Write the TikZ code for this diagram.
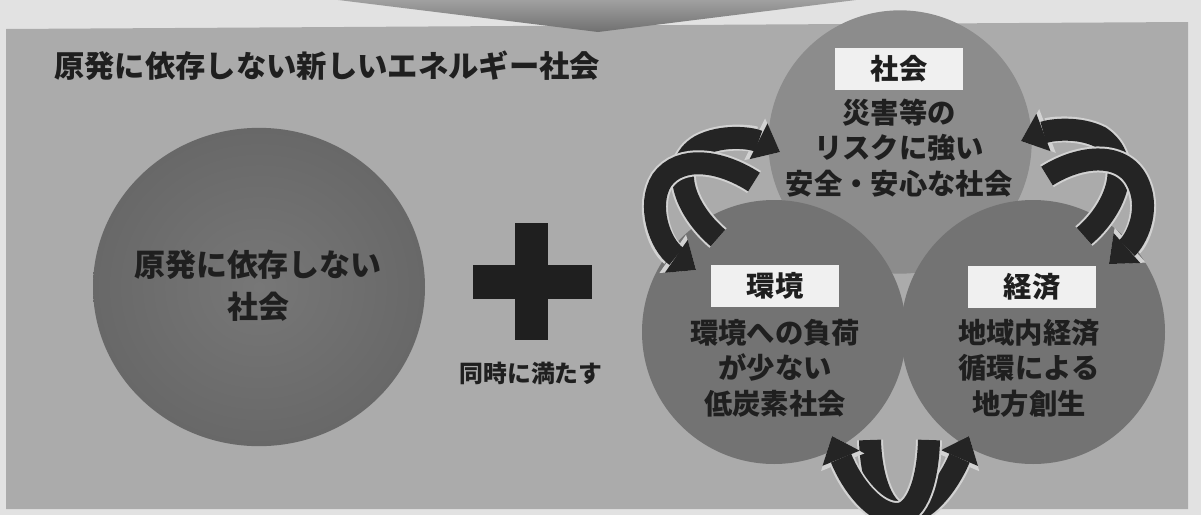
\documentclass[tikz,border=0pt]{standalone}
\usepackage{fontspec}
\setmainfont{Noto Sans CJK JP}
\usetikzlibrary{arrows.meta,shapes.geometric}
\definecolor{pagebg}{HTML}{E2E2E2}
\definecolor{panelc}{HTML}{ABABAB}
\definecolor{chevc}{HTML}{707070}
\definecolor{bigc}{HTML}{686868}
\definecolor{bigcin}{HTML}{777777}
\definecolor{topc}{HTML}{8C8C8C}
\definecolor{lowc}{HTML}{737373}
\definecolor{ink}{HTML}{1F1F1F}
\definecolor{arrowc}{HTML}{242424}
\definecolor{haloc}{HTML}{D2D2D2}
\definecolor{labelbg}{HTML}{F0F0F0}
\newcommand\cyclearrow[1]{\draw[halo line] #1; \draw[band] #1;}
\begin{document}
\begin{tikzpicture}[x=0.6pt,y=-0.6pt,
  ball/.style={circle, inner sep=0pt, draw=none},
  txt/.style={text=ink, font=\bfseries\fontsize{17pt}{21.3pt}\selectfont, align=center, inner sep=0pt},
  lbl/.style={fill=labelbg, minimum width=76.8pt, minimum height=25.2pt, inner sep=0pt, text=ink, font=\bfseries\fontsize{17pt}{20pt}\selectfont},
  halo line/.style={line width=15.6pt, draw=haloc, -{Triangle[width=28pt,length=17pt,line width=0pt]}},
  band/.style={line width=13.2pt, draw=arrowc, -{Triangle[width=24pt,length=14.4pt,line width=0pt]}}
]
\useasboundingbox (0,0) rectangle (1201,515);
\clip (0,0) rectangle (1201,515);
% page and panel
\fill[pagebg] (0,0) rectangle (1201,515);
\fill[panelc] (6,29) -- (1188,22) -- (1188,509) -- (6,509) -- cycle;
\shade[top color=chevc!55!pagebg, bottom color=chevc] (322,-2) -- (598,32) -- (872,-2) -- cycle;

% title
\node[anchor=west, text=ink, inner sep=0pt, font=\bfseries\fontsize{18.2pt}{20pt}\selectfont] (title) at (54,66) {原発に依存しない新しいエネルギー社会};

% big circle
\node[ellipse, inner sep=0pt, minimum width=199.2pt, minimum height=191pt, inner color=bigcin, outer color=bigc] (nonuc) at (259,287) {};
\node[txt, font=\bfseries\fontsize{18.6pt}{25.2pt}\selectfont] (nonuctxt) at (258,286) {原発に依存しない\\社会};

% plus
\fill[ink] (515,223) rectangle (548,340);
\fill[ink] (473,265) rectangle (592,299);
\node[text=ink, inner sep=0pt, font=\bfseries\fontsize{14.3pt}{16pt}\selectfont] (both) at (531,373) {同時に満たす};

% three circles
\node[ball, minimum size=158pt, fill=topc] (soc) at (900,142) {};
\node[ball, minimum size=158.4pt, fill=lowc] (env) at (774,332) {};
\node[ball, minimum size=158.4pt, fill=lowc] (eco) at (1033,332) {};

% arrow end points
\coordinate (p1) at (718,238); \coordinate (p2) at (780,152);
\coordinate (q1) at (754,182); \coordinate (q2) at (696,270);
\coordinate (s1) at (1084,236); \coordinate (s2) at (1021,141);
\coordinate (t1) at (1047,176); \coordinate (t2) at (1109,264);
\coordinate (u1) at (870,440); \coordinate (u2) at (969,436);
\coordinate (v1) at (929,440); \coordinate (v2) at (832,436);

% left pair
\cyclearrow{(p1) .. controls (685,210) and (668,165) .. (700,146) .. controls (722,134) and (752,138) .. (p2)}
\cyclearrow{(q1) .. controls (720,160) and (680,155) .. (662,180) .. controls (646,205) and (660,245) .. (q2)}
% right pair
\cyclearrow{(s1) .. controls (1117,208) and (1134,160) .. (1100,137) .. controls (1078,126) and (1050,130) .. (s2)}
\cyclearrow{(t1) .. controls (1080,155) and (1125,150) .. (1139,185) .. controls (1150,212) and (1136,240) .. (t2)}
% bottom pair
\cyclearrow{(u1) .. controls (871,480) and (884,513) .. (902,514) .. controls (925,515) and (948,485) .. (u2)}
\cyclearrow{(v1) .. controls (928,480) and (917,513) .. (898,514) .. controls (875,515) and (852,485) .. (v2)}

% labels
\node[lbl] (soclbl) at (899,69) {社会};
\node[lbl] (envlbl) at (775,286) {環境};
\node[lbl] (ecolbl) at (1032,287) {経済};

% texts
\node[txt] (soctxt) at (899,148) {災害等の\\リスクに強い\\安全・安心な社会};
\node[txt] (envtxt) at (775,368) {環境への負荷\\が少ない\\低炭素社会};
\node[txt] (ecotxt) at (1029,368) {地域内経済\\循環による\\地方創生};
\end{tikzpicture}
\end{document}
